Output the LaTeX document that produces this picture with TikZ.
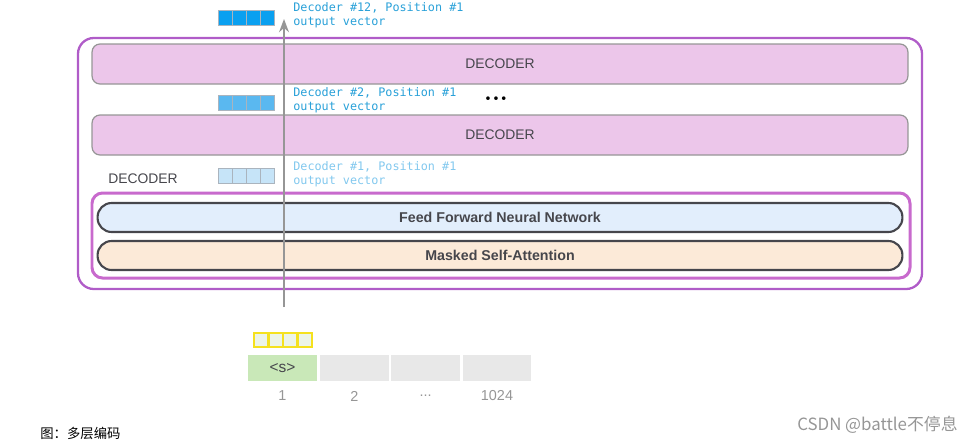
\documentclass[tikz,border=0pt]{standalone}
\usepackage{fontspec}
\setsansfont{Liberation Sans}
\setmonofont{DejaVu Sans Mono}
\newfontfamily\cjk{Noto Sans CJK SC}
\usetikzlibrary{arrows.meta}

\definecolor{outerpurple}{RGB}{176,92,200}
\definecolor{innerpurple}{RGB}{200,106,205}
\definecolor{decpink}{RGB}{236,198,234}
\definecolor{ffnnblue}{RGB}{226,238,252}
\definecolor{attnpeach}{RGB}{252,234,216}
\definecolor{bargray}{RGB}{150,150,150}
\definecolor{cellgray}{RGB}{170,180,190}
\definecolor{darktext}{RGB}{70,70,76}
\definecolor{vecstrong}{RGB}{10,160,240}
\definecolor{vecmid}{RGB}{90,184,240}
\definecolor{veclight}{RGB}{198,228,248}
\definecolor{labelblue}{RGB}{40,160,216}
\definecolor{labellight}{RGB}{130,200,238}
\definecolor{embyellow}{RGB}{245,225,30}
\definecolor{embfill}{RGB}{236,244,232}
\definecolor{tokgreen}{RGB}{201,232,184}
\definecolor{tokgray}{RGB}{232,232,232}

\begin{document}
\begin{tikzpicture}[x=0.02cm,y=-0.02cm,>=Stealth,
		decbar/.style={draw=bargray,fill=decpink,rounded corners=4.5pt,line width=0.7pt,
			minimum width=16.32cm,minimum height=0.8cm,inner sep=0pt,
			font=\sffamily\fontsize{7.9}{9}\selectfont,text=darktext},
		sublayer/.style={draw=darktext,line width=1.2pt,rounded corners=8pt,
			minimum width=16.1cm,minimum height=0.58cm,inner sep=0pt,
			font=\sffamily\bfseries\fontsize{8.1}{9}\selectfont,text=darktext},
		veclabel/.style={anchor=north west,align=left,inner sep=0pt,
			font=\ttfamily\fontsize{6.7}{8}\selectfont},
		token/.style={minimum width=1.38cm,minimum height=0.52cm,inner sep=0pt,
			font=\sffamily\fontsize{8.8}{10}\selectfont,text=darktext},
		posnum/.style={text=bargray,font=\sffamily\fontsize{8.2}{10}\selectfont}]
		\useasboundingbox (0,0) rectangle (974,444);
		% decoder stack
		\draw[outerpurple,line width=1.3pt,rounded corners=9pt] (78,38) rectangle (922,289);
		\node[decbar] (dec12) at (500,64) {DECODER};
		\node[decbar] (dec2) at (500,135) {DECODER};
		\node[font=\bfseries\Large] (dots) at (496,99) {...};
		\node[font=\sffamily\fontsize{7.9}{9}\selectfont,text=darktext] (declabel) at (143,179) {DECODER};
		\draw[innerpurple,line width=1.7pt,rounded corners=6pt] (92,193) rectangle (910,278);
		\node[sublayer,fill=ffnnblue] (ffnn) at (500,217.5) {Feed Forward Neural Network};
		\node[sublayer,fill=attnpeach] (attn) at (500,255.5) {Masked Self-Attention};
		% flow arrow
		\coordinate (arrowtail) at (284,307);
		\coordinate (arrowhead) at (284,19);
		\draw[->,bargray,line width=1pt] (arrowtail) -- (arrowhead);
		% output vectors
		\foreach \y/\col in {10/vecstrong,95/vecmid,168/veclight}{
			\foreach \i in {0,...,3}
				\draw[cellgray,fill=\col,line width=0.5pt] (218+\i*14,\y) rectangle ++(14,15);
		}
		\node[veclabel,text=labelblue] (out12) at (293,2) {Decoder \#12, Position \#1\\output vector};
		\node[veclabel,text=labelblue] (out2) at (293,87) {Decoder \#2, Position \#1\\output vector};
		\node[veclabel,text=labellight] (out1) at (293,161) {Decoder \#1, Position \#1\\output vector};
		% input embedding
		\foreach \i in {0,...,3}
			\draw[embyellow,fill=embfill,line width=1.3pt] (254+\i*14.5,333) rectangle ++(14.5,14);
		\node[token,fill=tokgreen] (tok1) at (282.5,368) {<s>};
		\node[token,fill=tokgray] (tok2) at (354.5,368) {};
		\node[token,fill=tokgray] (tok3) at (425.5,368) {};
		\node[token,fill=tokgray] (tok4) at (497,368) {};
		\node[posnum] (pos1) at (282.5,396) {1};
		\node[posnum] (pos2) at (354.5,396) {2};
		\node[posnum] (pos3) at (425.5,396) {...};
		\node[posnum] (pos4) at (497,396) {1024};
		% caption
		\node[anchor=west,inner sep=0pt,font=\cjk\fontsize{7.6}{9}\selectfont] (caption) at (40,433) {图：多层编码};
		\node[anchor=east,inner sep=0pt,text=bargray,font=\cjk\fontsize{9.6}{11}\selectfont] (mark) at (958,425) {CSDN @battle不停息};
	\end{tikzpicture}
\end{document}
